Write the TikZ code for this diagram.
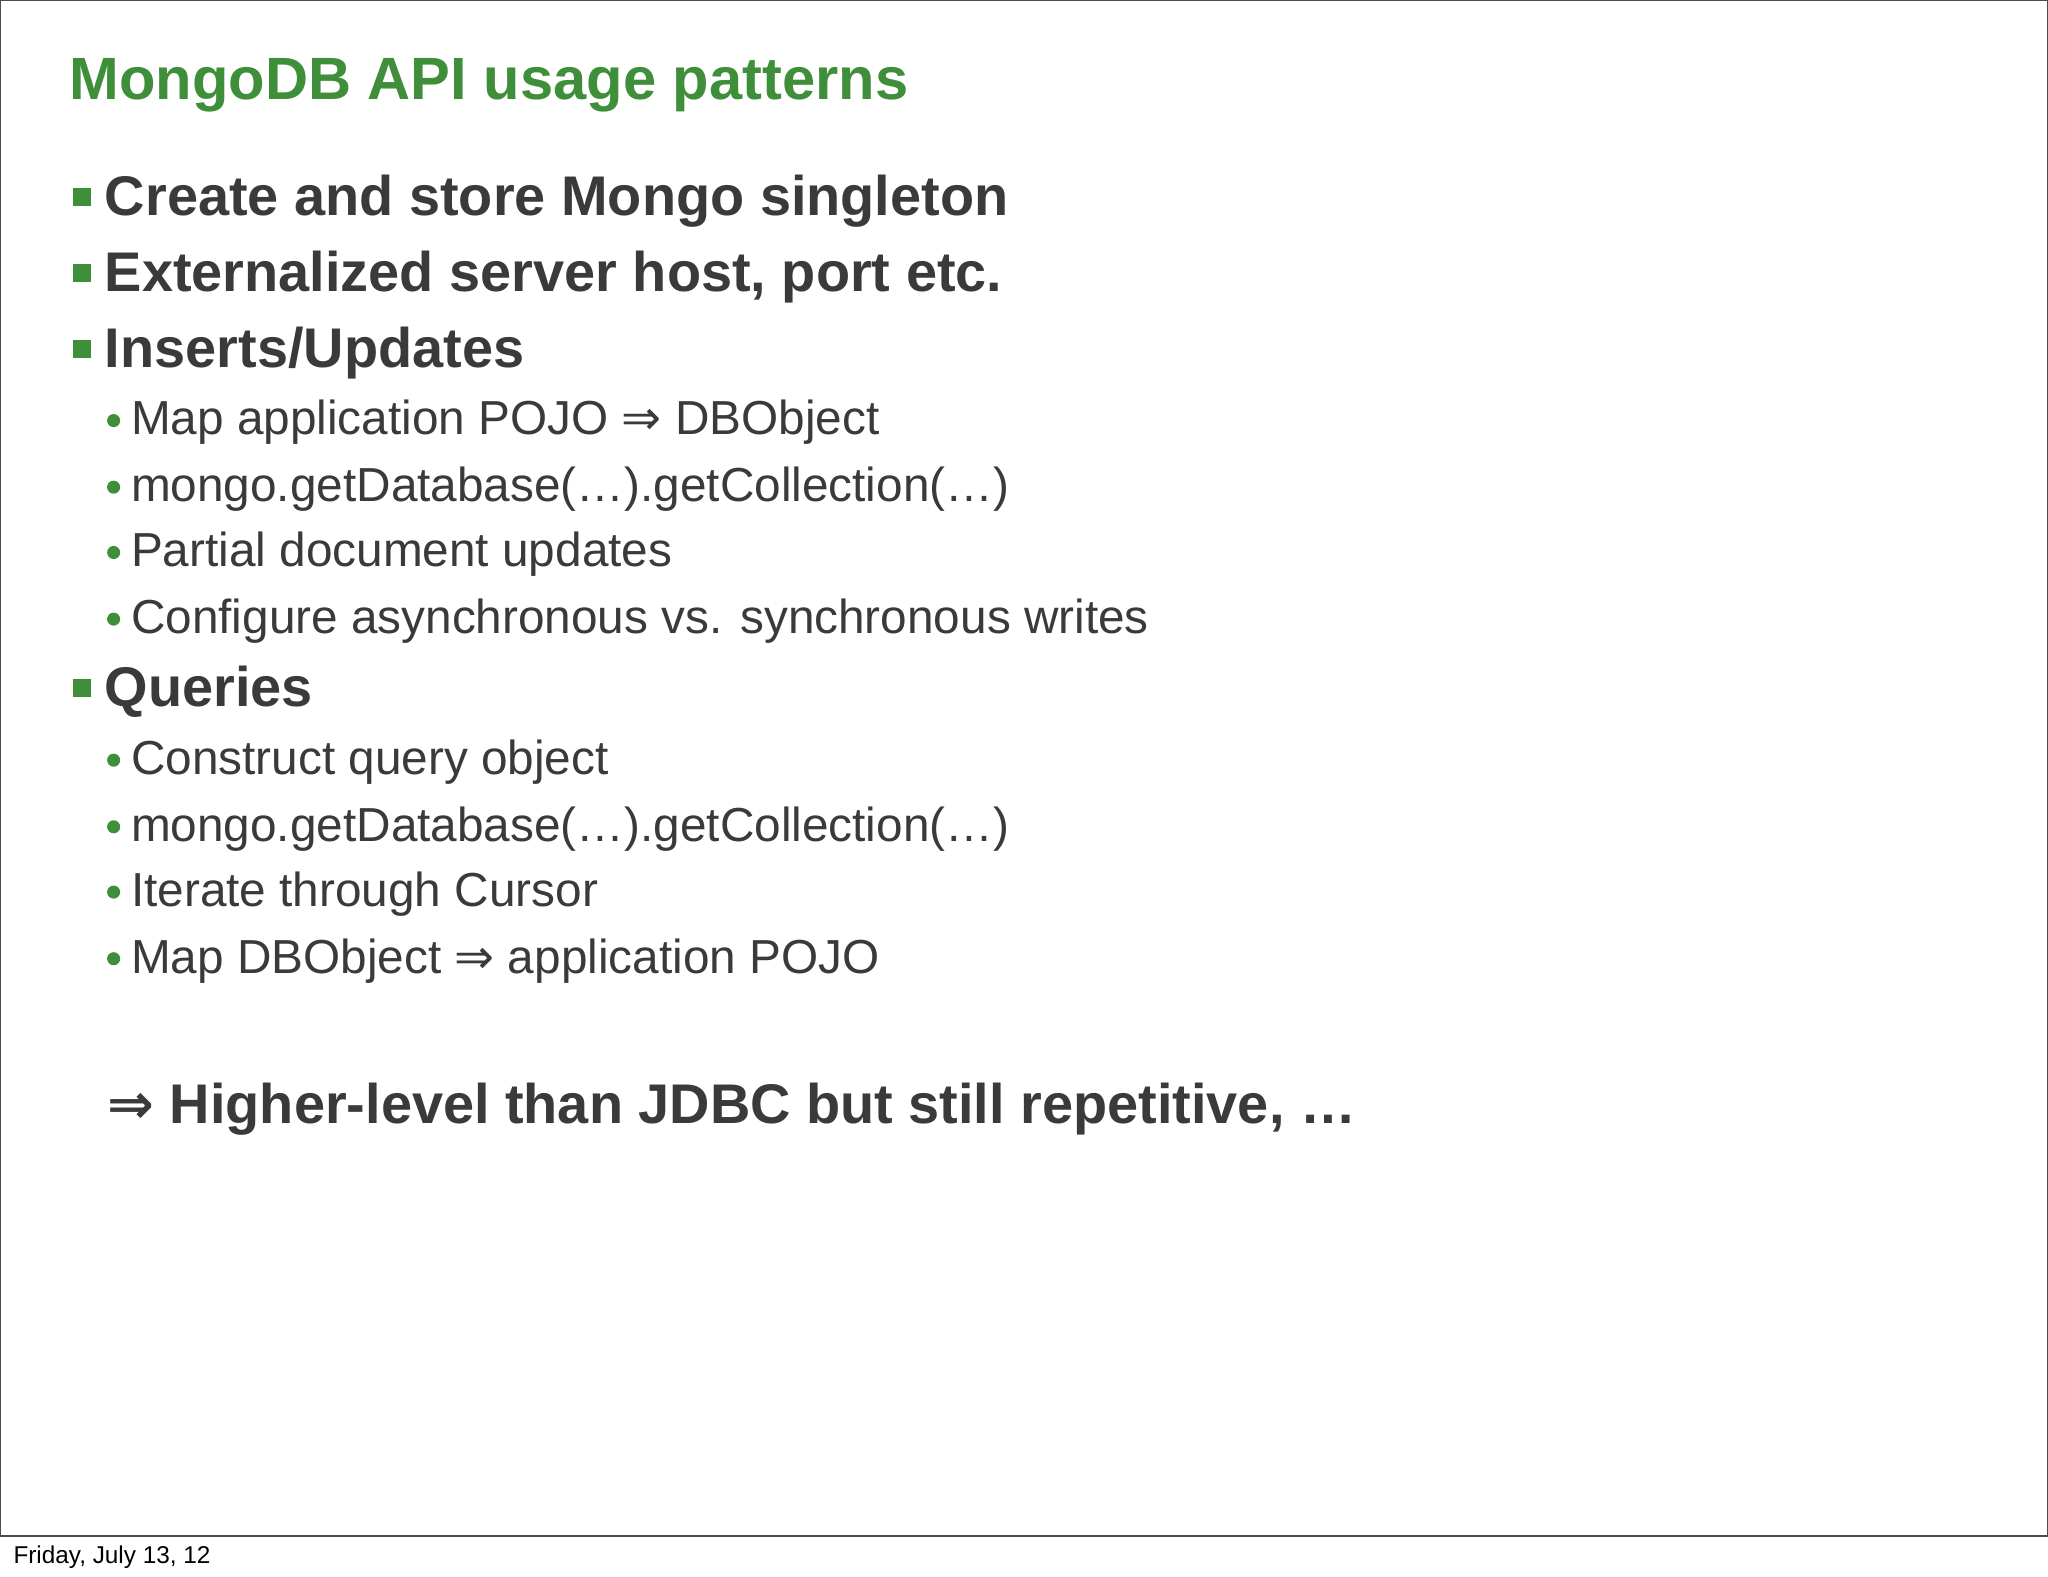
\documentclass[tikz,border=0pt]{standalone}
\usepackage{fontspec}
\setmainfont{Liberation Sans}
\newfontfamily\symfont{DejaVu Sans}
\newcommand{\impl}{{\symfont ⇒}}
\definecolor{tgreen}{HTML}{3F8F3A}
\definecolor{tgray}{HTML}{3A3A3C}
\begin{document}
\begin{tikzpicture}[x=0.02cm,y=-0.02cm,
  lone/.style={anchor=base west,inner sep=0,text=tgray,font=\fontsize{24.35}{28}\selectfont\bfseries},
  ltwo/.style={anchor=base west,inner sep=0,text=tgray,font=\fontsize{20.8}{24}\selectfont},
  sq/.style={fill=tgreen,draw=none},
  dt/.style={fill=tgreen,draw=none}]
\useasboundingbox (0,0) rectangle (1568,1207);
\fill[white] (0,0) rectangle (1568,1207);
\draw[line width=0.6pt,black!70] (0.5,0.5) rectangle (1567.5,1176);
\node[anchor=base west,inner sep=0,text=tgreen,font=\fontsize{26}{30}\selectfont\bfseries] (title) at (53,76) {MongoDB API usage patterns};
\foreach \y/\t/\n in {165/{Create and store Mongo singleton}/a,223/{Externalized server host, port etc.}/b,281/{Inserts/Updates}/c,541/{Queries}/d}{
  \fill[sq] (56,\y-21) rectangle (70,\y-7);
  \node[lone] (l\n) at (80,\y) {\t};
}
\foreach \y/\t/\n in {333/{Map application POJO \impl{} DBObject}/a,384/{mongo.getDatabase(…).getCollection(…)}/b,434/{Partial document updates}/c,485/{Configure asynchronous vs. synchronous writes}/d,593/{Construct query object}/e,644/{mongo.getDatabase(…).getCollection(…)}/f,694/{Iterate through Cursor}/g,745/{Map DBObject \impl{} application POJO}/h}{
  \fill[dt] (87,\y-11) circle (5);
  \node[ltwo] (m\n) at (100,\y) {\t};
}
\node[lone] (concl) at (82,860) {\impl{} Higher-level than JDBC but still repetitive, …};
\node[anchor=base west,inner sep=0,text=black,font=\fontsize{10.6}{12}\selectfont] (foot) at (10,1197) {Friday, July 13, 12};
\end{tikzpicture}
\end{document}
